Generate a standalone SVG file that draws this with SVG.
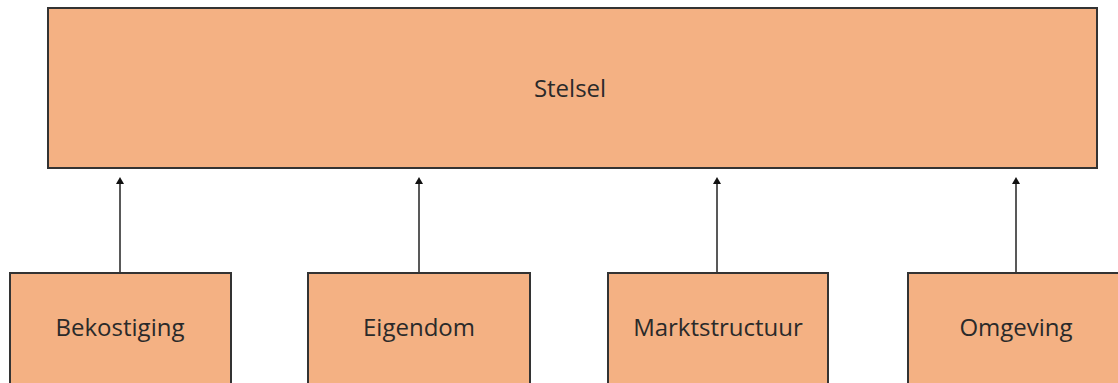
<svg xmlns="http://www.w3.org/2000/svg" width="1118" height="383" viewBox="0 0 1118 383">
<defs>
<style>
.box{fill:#F4B183;stroke:#333;stroke-width:2}
.lbl{font-family:"Open Sans","Noto Sans",sans-serif;font-size:24px;fill:#2a2a2a;text-anchor:middle;dominant-baseline:central}
.con{stroke:#222;stroke-width:1.5;fill:none}
</style>
<marker id="ah" markerWidth="8" markerHeight="8" refX="4" refY="4" orient="auto" markerUnits="userSpaceOnUse">
<path d="M0,7 L4,0 L8,7 Z" fill="#111" transform="rotate(90 4 4)"/>
</marker>
</defs>
<rect width="1118" height="383" fill="#fff"/>
<g id="stelsel"><rect class="box" x="48" y="8" width="1049" height="160"/><text class="lbl" x="570" y="87">Stelsel</text></g>
<g id="bekostiging"><rect class="box" x="10" y="273" width="221" height="120"/><text class="lbl" x="120" y="326">Bekostiging</text></g>
<g id="eigendom"><rect class="box" x="308" y="273" width="222" height="120"/><text class="lbl" x="419" y="326">Eigendom</text></g>
<g id="marktstructuur"><rect class="box" x="608" y="273" width="220" height="120"/><text class="lbl" x="718" y="326">Marktstructuur</text></g>
<g id="omgeving"><rect class="box" x="908" y="273" width="220" height="120"/><text class="lbl" x="1016" y="326">Omgeving</text></g>
<g id="connectors">
<line class="con" x1="120" y1="272" x2="120" y2="181" marker-end="url(#ah)"/>
<line class="con" x1="419" y1="272" x2="419" y2="181" marker-end="url(#ah)"/>
<line class="con" x1="717" y1="272" x2="717" y2="181" marker-end="url(#ah)"/>
<line class="con" x1="1016" y1="272" x2="1016" y2="181" marker-end="url(#ah)"/>
</g>
</svg>
